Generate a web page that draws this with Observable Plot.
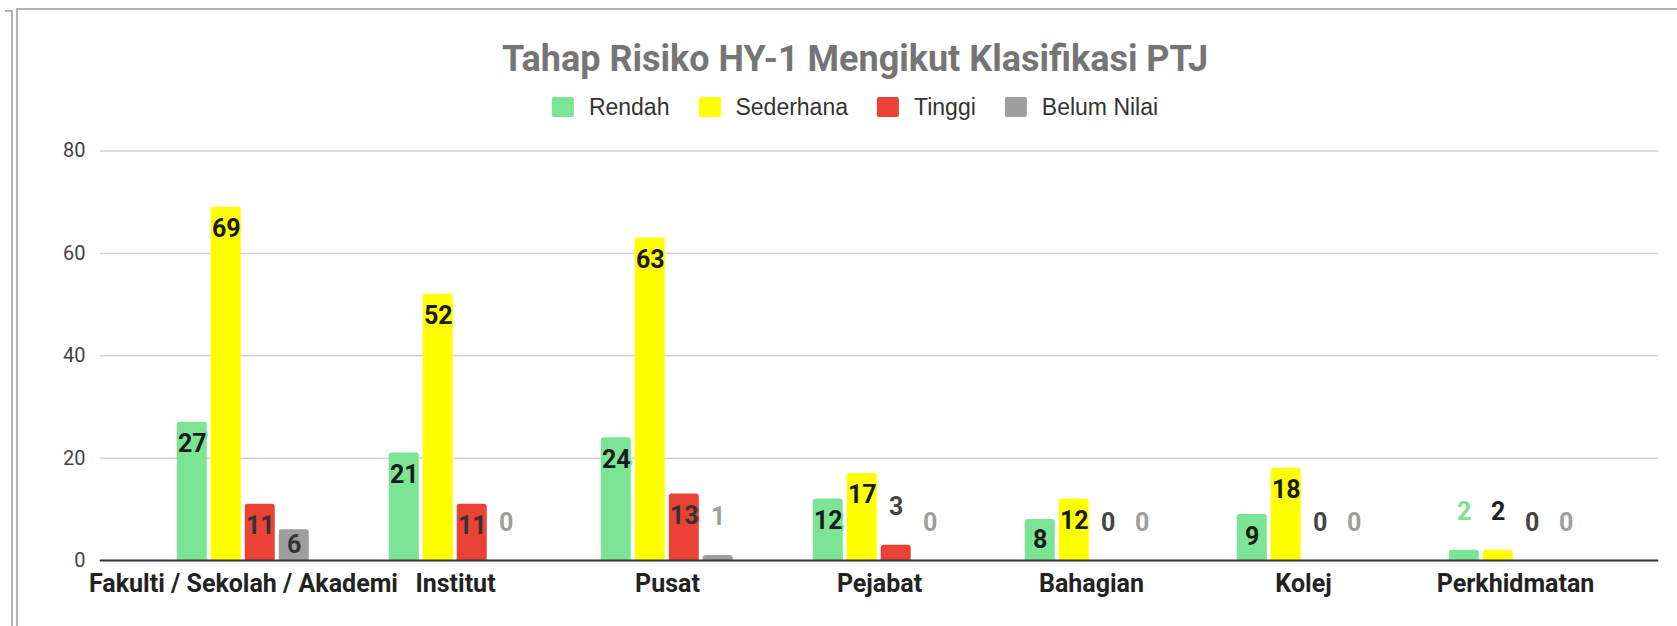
<!DOCTYPE html>
<html>
<head>
<meta charset="utf-8">
<script src="https://cdn.jsdelivr.net/npm/d3@7"></script>
<script src="https://cdn.jsdelivr.net/npm/@observablehq/plot@0.6"></script>
<style>
  html, body { margin: 0; padding: 0; background: #fff; }
  body { width: 1677px; height: 626px; position: relative; overflow: hidden; font-family: Roboto, sans-serif; }
  .frame-outer { position: absolute; left: 5px; top: 10px; width: 6px; height: 640px; border-top: 2px solid #b3b3b3; border-right: 2px solid #b3b3b3; }
  .frame-inner { position: absolute; left: 16px; top: 8px; right: -10px; bottom: -10px; border-left: 2px solid #b3b3b3; border-top: 2px solid #b3b3b3; }
  #title { position: absolute; left: 855px; top: 37px; transform: translateX(-50%); white-space: nowrap;
           font: bold 36px Roboto, sans-serif; color: #757575; line-height: 44px; }
  #legend { position: absolute; left: 855px; top: 94px; transform: translateX(-50%); display: flex; align-items: center; white-space: nowrap;
            font: 23px "Liberation Sans", Arial, sans-serif; color: #333; line-height: 26px; }
  #legend .item { display: flex; align-items: center; margin-right: 29px; }
  #legend .item:last-child { margin-right: 0; }
  #legend .sw { width: 22px; height: 20px; border-radius: 2px; margin-right: 15px; }
  #chart { position: absolute; left: 0; top: 122px; }
</style>
</head>
<body>
<div class="frame-outer"></div>
<div class="frame-inner"></div>
<div id="title"></div>
<div id="legend"></div>
<div id="chart"></div>
<script>
const titleText = "Tahap Risiko HY-1 Mengikut Klasifikasi PTJ";
const categories = ["Fakulti / Sekolah / Akademi", "Institut", "Pusat", "Pejabat", "Bahagian", "Kolej", "Perkhidmatan"];
const seriesNames = ["Rendah", "Sederhana", "Tinggi", "Belum Nilai"];
const seriesColors = ["#7be495", "#ffff00", "#ea4335", "#9e9e9e"];
const outsideLabelColors = ["#7be495", "#1f1f1f", "#444444", "#9e9e9e"];
const insideLabelColors = ["#1a1a1a", "#1a1a1a", "#333333", "#333333"];
const rendah = [27, 21, 24, 12, 8, 9, 2];
const sederhana = [69, 52, 63, 17, 12, 18, 2];
const tinggi = [11, 11, 13, 3, 0, 0, 0];
const belumNilai = [6, 0, 1, 0, 0, 0, 0];
const yTicks = [0, 20, 40, 60, 80];

const seriesValues = [rendah, sederhana, tinggi, belumNilai];
const data = [];
categories.forEach((cat, i) => {
  seriesNames.forEach((s, j) => {
    data.push({cat, series: s, value: seriesValues[j][i], si: j});
  });
});

document.getElementById("title").textContent = titleText;
const legend = document.getElementById("legend");
seriesNames.forEach((s, j) => {
  const it = document.createElement("div");
  it.className = "item";
  const sw = document.createElement("div");
  sw.className = "sw";
  sw.style.background = seriesColors[j];
  const tx = document.createElement("span");
  tx.textContent = s;
  it.appendChild(sw); it.appendChild(tx);
  legend.appendChild(it);
});

// horizontal rules, one per facet so that they tile the whole width
const ruleData = [];
categories.forEach(cat => yTicks.forEach(v => ruleData.push({cat, v})));
const firstCat = categories[0], lastCat = categories[categories.length - 1];
const ext = -37.25; // outer facets: rules extend past the bar area
function rules(filterV, style) {
  const rows = ruleData.filter(d => filterV(d.v));
  return [
    Plot.ruleY(rows.filter(d => d.cat === firstCat), {fx: "cat", y: "v", insetLeft: ext, ...style}),
    Plot.ruleY(rows.filter(d => d.cat !== firstCat && d.cat !== lastCat), {fx: "cat", y: "v", ...style}),
    Plot.ruleY(rows.filter(d => d.cat === lastCat), {fx: "cat", y: "v", insetRight: ext, ...style})
  ];
}

const labelFont = {fontSize: 25, fontWeight: "bold", fontFamily: "Roboto"};
const insideTop = data.filter(d => d.value >= 10);
const insideMid = data.filter(d => d.value >= 4 && d.value < 10);
const outside = data.filter(d => d.value < 4);

const chart = Plot.plot({
  width: 1677,
  height: 504,
  marginLeft: 135.25,
  marginRight: 54.25,
  marginTop: 28.5,
  marginBottom: 66,
  style: {fontFamily: "Roboto", background: "transparent"},
  fx: {domain: categories, padding: 0, label: null},
  x: {domain: seriesNames, paddingInner: 0.12, paddingOuter: 1.14, axis: null},
  y: {domain: [0, 80], label: null},
  color: {domain: seriesNames, range: seriesColors},
  marks: [
    ...rules(v => v > 0, {stroke: "#d4d4d4", strokeWidth: 1.5}),
    Plot.axisY({ticks: yTicks, tickSize: 0, tickPadding: 52, fontSize: 20, color: "#444", label: null, fontFamily: "Roboto"}),
    Plot.axisFx({anchor: "bottom", tickSize: 0, tickPadding: 14, fontSize: 25, fontWeight: "bold", color: "#222", label: null}),
    Plot.barY(data, {fx: "cat", x: "series", y: "value", fill: "series", ry1: 3}),
    ...rules(v => v === 0, {stroke: "#333", strokeWidth: 2}),
    Plot.text(insideTop, {fx: "cat", x: "series", y: "value", dy: 22, text: d => String(d.value),
      fill: d => insideLabelColors[d.si], stroke: d => seriesColors[d.si], strokeWidth: 4, paintOrder: "stroke", ...labelFont}),
    Plot.text(insideMid, {fx: "cat", x: "series", y: d => d.value / 2, text: d => String(d.value),
      fill: d => insideLabelColors[d.si], stroke: d => seriesColors[d.si], strokeWidth: 4, paintOrder: "stroke", ...labelFont}),
    Plot.text(outside, {fx: "cat", x: "series", y: "value", dy: -38, text: d => String(d.value),
      fill: d => outsideLabelColors[d.si], ...labelFont})
  ]
});
document.getElementById("chart").appendChild(chart);
</script>
</body>
</html>
